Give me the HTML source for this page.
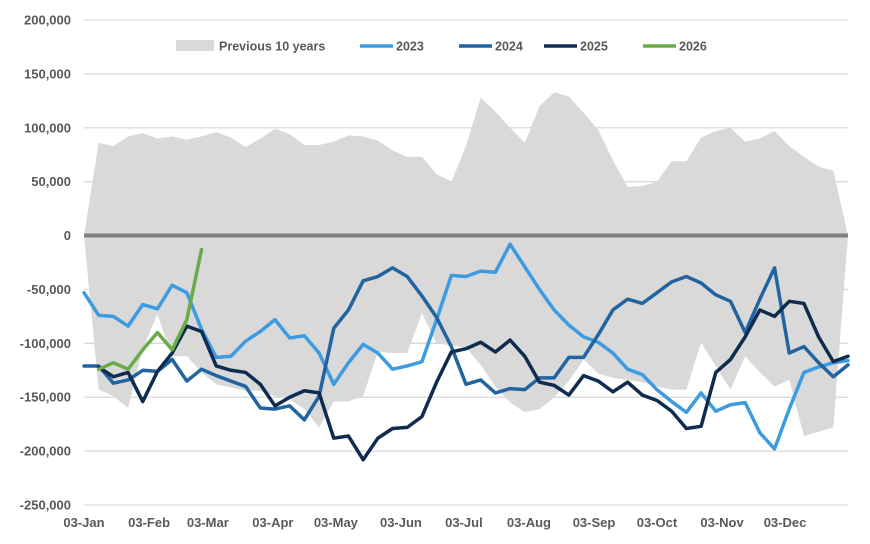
<!DOCTYPE html>
<html><head><meta charset="utf-8">
<style>
body{margin:0;background:#fff;width:870px;height:544px;overflow:hidden}
svg{display:block}
text{font-family:"Liberation Sans",Arial,sans-serif;font-weight:bold;fill:#595959}
</style></head>
<body>
<svg id="chart" width="870" height="544" viewBox="0 0 870 544" xmlns="http://www.w3.org/2000/svg"></svg>
<script>
const yTicks=[200000,150000,100000,50000,0,-50000,-100000,-150000,-200000,-250000];
const xLabels=["03-Jan","03-Feb","03-Mar","03-Apr","03-May","03-Jun","03-Jul","03-Aug","03-Sep","03-Oct","03-Nov","03-Dec"];
const xLabelDays=[0,31,59,90,120,151,181,212,243,273,304,334];
const bandUpper=[0,86,83,92,95,90,92,89,92,96,91,82,90,99,94,84,84,87,93,92,88,79,73,73,57,50,83,128,115,100,86,120,133,129,114,98,70,45,46,50,69,69,91,97,100,87,90,97,83,73,64,60,0];
const bandLower=[0,-143,-149,-160,-105,-73,-112,-112,-127,-138,-141,-144,-144,-149,-152,-161,-178,-154,-154,-149,-108,-109,-109,-72,-100,-102,-104,-120,-140,-155,-164,-161,-150,-135,-115,-128,-132,-134,-136,-140,-143,-143,-99,-121,-143,-112,-127,-140,-134,-186,-182,-178,0];
const s2023=[-53,-74,-75,-84,-64,-68,-46,-53,-87,-113,-112,-98,-89,-78,-95,-93,-109,-138,-118,-101,-109,-124,-121,-117,-78,-37,-38,-33,-34,-8,-29,-50,-69,-83,-94,-99,-109,-124,-129,-143,-154,-164,-146,-163,-157,-155,-183,-198,-161,-127,-122,-118,-116];
const s2024=[-121,-121,-137,-134,-125,-126,-115,-135,-124,-130,-135,-140,-160,-161,-158,-171,-149,-86,-69,-42,-38,-30,-38,-56,-76,-103,-138,-134,-146,-142,-143,-132,-132,-113,-113,-92,-69,-59,-63,-53,-43,-38,-44,-55,-61,-90,-59,-30,-109,-103,-118,-131,-120];
const s2025=[null,-122,-131,-127,-154,-126,-109,-84,-89,-121,-125,-127,-138,-158,-150,-144,-146,-188,-186,-208,-188,-179,-178,-168,-136,-108,-105,-99,-108,-97,-112,-136,-139,-148,-130,-135,-145,-136,-148,-153,-163,-179,-177,-127,-115,-94,-69,-75,-61,-63,-94,-117,-112];
const s2026=[null,-124,-118,-124,-106,-90,-106,-78,-13];

const NS="http://www.w3.org/2000/svg";
const svg=document.getElementById('chart');
const X0=84,X1=848,Y_TOP=20,Y_BOT=505;
const y=v=>Y_TOP+(200000-v)/450000*(Y_BOT-Y_TOP);
const xi=i=>X0+i*(X1-X0)/52;
const xd=d=>X0+d*(X1-X0)/364;
function el(tag,attrs){const e=document.createElementNS(NS,tag);for(const k in attrs)e.setAttribute(k,attrs[k]);svg.appendChild(e);return e;}

yTicks.forEach(t=>{
  if(t!==0){const g=el('line',{x1:X0,x2:X1,y1:y(t),y2:y(t),stroke:'#d9d9d9','stroke-width':1.3});
  
  }
  const tx=el('text',{x:71,y:y(t)+4.5,'text-anchor':'end','font-size':13});
  tx.textContent=t.toLocaleString('en-US');
  
  
});
let d='';
bandUpper.forEach((v,i)=>{d+=(i?'L':'M')+xi(i)+','+y(v*1000);});
for(let i=bandLower.length-1;i>=0;i--){d+='L'+xi(i)+','+y(bandLower[i]*1000);}
const band=el('path',{d:d+'Z',fill:'#d9d9d9'});


const z=el('line',{x1:X0,x2:X1,y1:y(0),y2:y(0),stroke:'#7f7f7f','stroke-width':4});


function series(arr,color,name){
  let p='',started=false;
  arr.forEach((v,i)=>{if(v===null)return;p+=(started?'L':'M')+xi(i)+','+y(v*1000);started=true;});
  const e=el('path',{d:p,fill:'none',stroke:color,'stroke-width':3.5,'stroke-linejoin':'round','stroke-linecap':'round'});
  
  
}
series(s2023,'#3d9be0','line-2023');
series(s2024,'#22649f','line-2024');
series(s2025,'#0f2b4f','line-2025');
series(s2026,'#6aab48','line-2026');
xLabels.forEach((l,i)=>{
  const t=el('text',{x:xd(xLabelDays[i]),y:527,'text-anchor':'middle','font-size':13});
  t.textContent=l;
  
  
});
const legendItems=[["Previous 10 years",'#d9d9d9',176,'area'],["2023",'#3d9be0',360,'line'],["2024",'#22649f',459,'line'],["2025",'#0f2b4f',544,'line'],["2026",'#6aab48',643,'line']];
legendItems.forEach(([label,color,x,kind])=>{
  if(kind==='area'){const r=el('rect',{x:x,y:40,width:38,height:11,fill:color});
    
    }
  else{const l=el('line',{x1:x,x2:x+33,y1:46,y2:46,stroke:color,'stroke-width':3.5});
    
    }
  const t=el('text',{x:x+(kind==='area'?43:36),y:50.5,'font-size':12.5});
  t.textContent=label;
  
  
});
</script>
</body></html>
